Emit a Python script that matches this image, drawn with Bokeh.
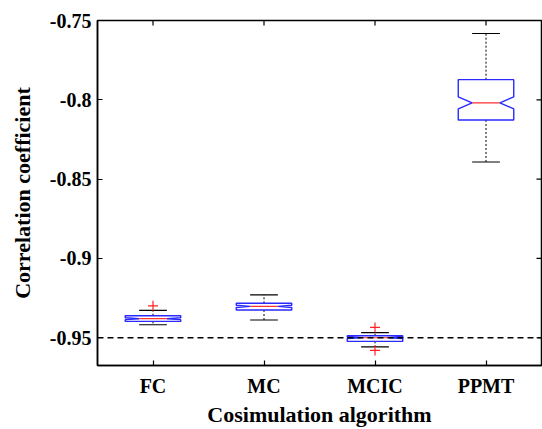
from bokeh.plotting import figure
from bokeh.models import Range1d, FixedTicker, Span, CustomJSTickFormatter
from bokeh.embed import file_html
from bokeh.resources import INLINE
import math

# ---- data ----
categories = ["FC", "MC", "MCIC", "PPMT"]
positions = [1, 2, 3, 4]
whisker_hi = [-0.9327, -0.9230, -0.9468, -0.7582]
q3 = [-0.9361, -0.9283, -0.9487, -0.7873]
median = [-0.9380, -0.9302, -0.9500, -0.8019]
q1 = [-0.9397, -0.9325, -0.9523, -0.8127]
whisker_lo = [-0.9418, -0.9388, -0.9557, -0.8392]
notch_half = [0.0006, 0.0007, 0.0005, 0.0038]
outlier_x = [1, 3, 3]
outlier_y = [-0.9299, -0.9435, -0.9580]
reference_value = -0.95
ytick_values = [-0.95, -0.9, -0.85, -0.8, -0.75]
ytick_labels = ["-0.95", "-0.9", "-0.85", "-0.8", "-0.75"]

FONT = "Liberation Serif"
BOX_HALF = 0.25
NOTCH_INSET = 0.125
CAP_HALF = 0.125
X0, X1 = 0.5, 4.5
Y0, Y1 = -0.9675, -0.75

p = figure(width=542, height=429, output_backend="svg", toolbar_location=None,
           x_range=Range1d(X0, X1), y_range=Range1d(Y0, Y1),
           min_border_left=97, min_border_right=1, min_border_top=20, min_border_bottom=64)
p.grid.visible = False
p.background_fill_color = "white"
p.border_fill_color = "white"
p.outline_line_color = "black"
p.outline_line_width = 1.5

# axes
xa = p.xaxis[0]
xa.ticker = FixedTicker(ticks=positions)
xa.formatter = CustomJSTickFormatter(args=dict(labels=categories),
                                     code="return labels[Math.round(tick) - 1];")
ya = p.yaxis[0]
ya.ticker = FixedTicker(ticks=ytick_values)
ya.formatter = CustomJSTickFormatter(args=dict(vals=ytick_values, labels=ytick_labels), code="""
for (let i = 0; i < vals.length; i++) { if (Math.abs(vals[i] - tick) < 1e-6) return labels[i]; }
return tick.toString();""")
for ax in (xa, ya):
    ax.major_tick_in = 5
    ax.major_tick_out = 0
    ax.minor_tick_line_color = None
    ax.axis_line_width = 1.5
    ax.major_tick_line_width = 1.2
    ax.major_label_text_font = FONT
    ax.major_label_text_font_style = "bold"
    ax.major_label_text_font_size = "20px"
    ax.major_label_text_color = "black"
    ax.axis_label_text_font = FONT
    ax.axis_label_text_font_style = "bold"
    ax.axis_label_text_font_size = "22px"
    ax.axis_label_text_color = "black"
xa.axis_label = "Cosimulation algorithm"
xa.major_label_standoff = 9
xa.axis_label_standoff = 2
ya.axis_label = "Correlation coefficient"
ya.major_label_standoff = 6
ya.axis_label_standoff = 12

# top / right inward tick marks (half of each dash is clipped by the frame)
p.scatter(x=positions, y=[Y1] * len(positions), marker="dash", angle=math.pi / 2,
          size=10, line_color="black", line_width=1.2)
p.scatter(x=[X1] * len(ytick_values), y=ytick_values, marker="dash",
          size=10, line_color="black", line_width=1.2)

# reference line
p.add_layout(Span(location=reference_value, dimension="width", line_color="black",
                  line_dash="6 4", line_width=1.3))

# whiskers (dotted) and caps
p.segment(x0=positions, y0=q3, x1=positions, y1=whisker_hi, line_color="black",
          line_dash="2 2", line_width=1)
p.segment(x0=positions, y0=q1, x1=positions, y1=whisker_lo, line_color="black",
          line_dash="2 2", line_width=1)
p.segment(x0=[x - CAP_HALF for x in positions], y0=whisker_hi,
          x1=[x + CAP_HALF for x in positions], y1=whisker_hi, line_color="black", line_width=1.2)
p.segment(x0=[x - CAP_HALF for x in positions], y0=whisker_lo,
          x1=[x + CAP_HALF for x in positions], y1=whisker_lo, line_color="black", line_width=1.2)

# notched boxes
xs, ys = [], []
for c, a, m, b, n in zip(positions, q3, median, q1, notch_half):
    nh = min(m + n, a)
    nl = max(m - n, b)
    xs.append([c - BOX_HALF, c + BOX_HALF, c + BOX_HALF, c + BOX_HALF - NOTCH_INSET,
               c + BOX_HALF, c + BOX_HALF, c - BOX_HALF, c - BOX_HALF,
               c - BOX_HALF + NOTCH_INSET, c - BOX_HALF])
    ys.append([a, a, nh, m, nl, b, b, nl, m, nh])
p.patches(xs=xs, ys=ys, fill_color=None, line_color="#2a2aff", line_width=1.4)

# medians
p.segment(x0=[x - BOX_HALF + NOTCH_INSET for x in positions], y0=median,
          x1=[x + BOX_HALF - NOTCH_INSET for x in positions], y1=median,
          line_color="#ff3030", line_width=1.2)

# outliers
p.scatter(x=outlier_x, y=outlier_y, marker="cross", size=10, line_color="#ff2020", line_width=1.2)

open("out.html", "w").write(file_html(p, INLINE))
